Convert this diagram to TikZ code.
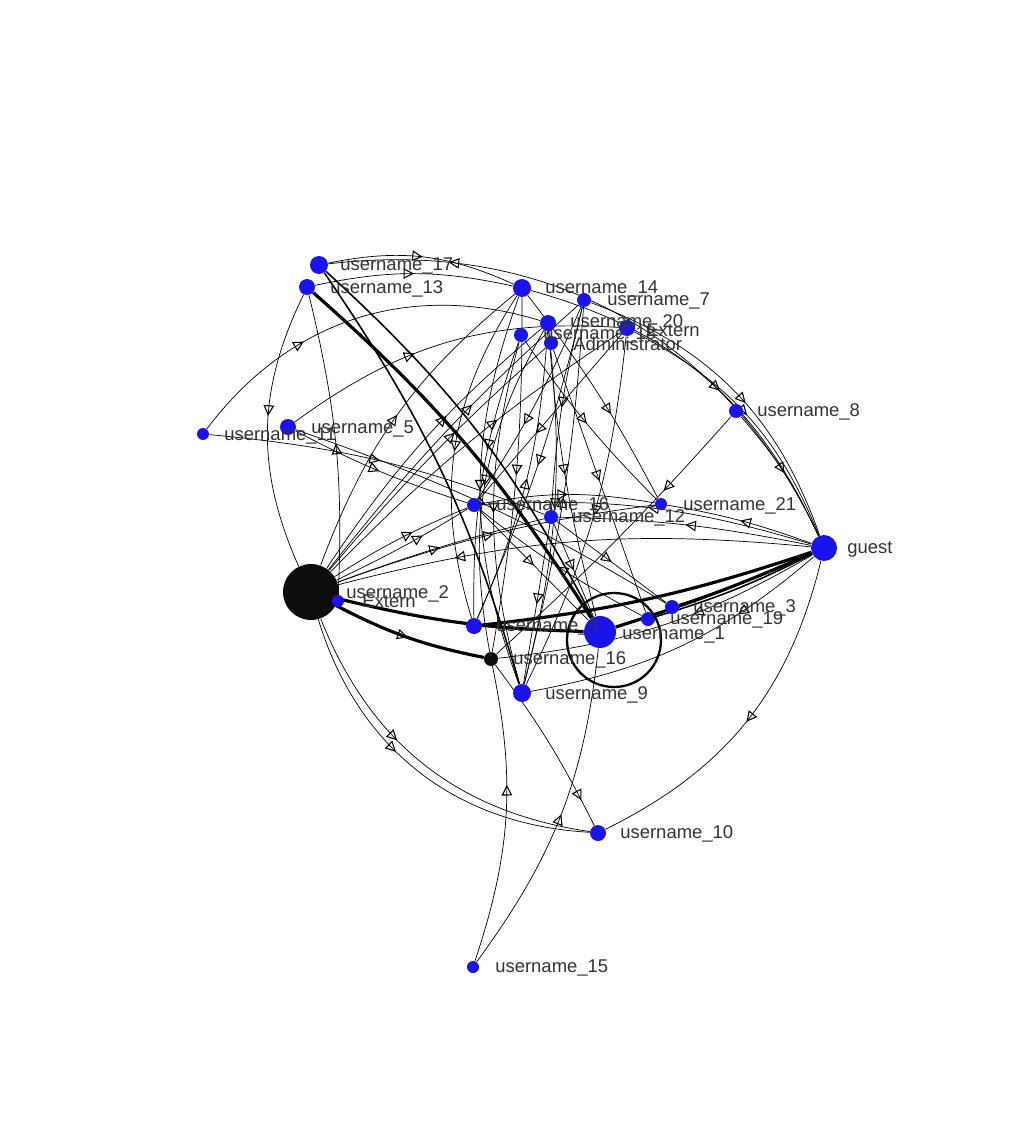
\documentclass[tikz,border=0pt]{standalone}
\usepackage{fontspec}
\setmainfont{Liberation Sans}
\usepackage{tikz}
\usetikzlibrary{arrows.meta,decorations.markings,backgrounds}
\definecolor{nodeblue}{RGB}{25,20,235}
\tikzset{
every picture/.style={line width=0.4pt},
v/.style={circle, fill=nodeblue, inner sep=0pt, minimum size=#1*0.04cm},
hub/.style={circle, fill=black!95, inner sep=0pt, minimum size=#1*0.04cm},
lab/.style={anchor=west, inner sep=0pt, text=black!80, font=\fontsize{10.5}{12}\selectfont},
e/.style={line width=0.4pt},
em/.style={line width=0.9pt},
eb/.style={line width=1.8pt},
midarr/.style={postaction={decorate}, decoration={markings,
  mark=at position #1 with {\arrow[line width=0.6pt]{Triangle[open,length=6pt,width=6pt]}}}}
}

\begin{document}
\begin{tikzpicture}[x=0.02cm, y=-0.02cm]
  \useasboundingbox (0,0) rectangle (1024,1128);
  % users
  \node[v=9] (a17) at (319,265) {};
  \node[v=8] (a13) at (307,287) {};
  \node[v=9] (a14) at (522,288) {};
  \node[v=7] (a7) at (584,300) {};
  \node[v=8] (a20) at (548,323) {};
  \node[v=7] (a18) at (521,335) {};
  \node[v=7] (adm) at (551,343) {};
  \node[v=8] (ext) at (627,328) {};
  \node[v=7] (a8) at (736,411) {};
  \node[v=6] (a11) at (203,434) {};
  \node[v=8] (a5) at (288,427) {};
  \node[v=7] (a16) at (474,505) {};
  \node[v=7] (a12) at (551,517) {};
  \node[v=6] (a21) at (661,504) {};
  \node[v=13] (guest) at (824,548) {};
  \node[hub=28] (big) at (311,592) {};
  \node[v=6] (a2) at (338,601) {};
  \node[v=7] (a3) at (672,607) {};
  \node[v=7] (a19) at (648,619) {};
  \node[v=8] (a4) at (474,626) {};
  \node[v=16] (a1) at (600,632) {};
  \node[hub=7] (b16) at (491,659) {};
  \node[v=9] (a9) at (522,693) {};
  \node[v=8] (a10) at (598,833) {};
  \node[v=6] (a15) at (473,967) {};
  \node[draw, circle, inner sep=0pt, minimum size=94*0.02cm, line width=1.3pt] (ring) at (614,640) {};

  % connectors
  \begin{scope}[on background layer]
    \foreach \s/\t/\b/\p in {guest/a17/-36/0.8, a17/a14/18/0.5, a13/a14/12/0.5,
      a13/big/-25/0.45, a2/a13/-8/0.5, a11/a20/35/0.35, a5/ext/20/0.4,
      a11/a12/8/0.5, a5/a3/6/0.5, a5/a16/-5/0.5, big/a14/15/0.5,
      big/a16/5/0.6, big/a16/-3/0.65, big/a12/3/0.5, big/a21/6/0.5,
      big/a20/8/0.6, big/ext/6/0.6, big/adm/4/0.6, big/a7/5/0.6,
      guest/big/-10/0.75, big/a10/-30/0.4, big/a10/-35/0.42,
      guest/b16/12/0.4, guest/a9/15/0.3, guest/a10/25/0.5,
      a14/guest/25/0.55, a7/guest/25/0.55, ext/guest/20/0.5, a8/guest/8/0.5,
      a8/b16/3/0.3, guest/a16/-10/0.5, guest/a12/-5/0.5, guest/a21/-5/0.5,
      a14/a4/-25/0.5, a14/a9/-20/0.5, a20/b16/-20/0.5, a18/a9/-15/0.5,
      a18/a4/-10/0.4, a14/b16/5/0.5, a20/a9/10/0.5, a15/b16/-15/0.6,
      a15/a1/-15/0.5, b16/a10/5/0.85, a20/a1/-5/0.5, a7/a4/5/0.5,
      ext/a9/10/0.5, a7/a12/-5/0.5, adm/a19/0/0.5, a18/a21/-5/0.5,
      a14/a21/5/0.6, ext/a16/0/0.6, a7/a16/5/0.6, a12/a9/0/0.5,
      a12/a3/0/0.5, a16/a1/0/0.5, a16/a21/10/0.5, a19/a16/5/0.5,
      a12/a1/0/0.5, a4/a20/-10/0.5, a9/a7/-5/0.5}
      \draw[e, midarr=\p] (\s) to[bend left=\b] (\t);
    \draw[em] (a17) to[bend left=10] (a1);
    \draw[em] (a17) to[bend left=9] (a9);
    \draw[em] (guest) to[bend left=5] (a19);
    \draw[em] (guest) to[bend left=3] (a3);
    \draw[eb] (a13) to[bend left=8] (a1);
    \draw[eb] (big) to[bend right=6] (a1);
    \draw[eb, midarr=0.5] (big) to[bend right=8] (b16);
    \draw[eb] (guest) to[bend left=3] (a1);
    \draw[eb] (guest) to[bend left=6] (a4);
  \end{scope}

  % labels
  \node[lab] (l17) at (340,266) {username\_17};
  \node[lab] (l13) at (330,289) {username\_13};
  \node[lab] (l14) at (545,289) {username\_14};
  \node[lab] (l7) at (607,301) {username\_7};
  \node[lab] (l20) at (570,323) {username\_20};
  \node[lab] (l18) at (543,335) {username\_18};
  \node[lab] (ladm) at (573,344) {Administrator};
  \node[lab] (lext) at (646,330) {Extern};
  \node[lab] (l8) at (757,412) {username\_8};
  \node[lab] (l11) at (224,436) {username\_11};
  \node[lab] (l5) at (311,429) {username\_5};
  \node[lab] (l16) at (496,506) {username\_16};
  \node[lab] (l12) at (572,518) {username\_12};
  \node[lab] (l21) at (683,506) {username\_21};
  \node[lab] (lguest) at (847,549) {guest};
  \node[lab] (l2) at (346,594) {username\_2};
  \node[lab] (lbig) at (362,601) {Extern};
  \node[lab] (l3) at (693,608) {username\_3};
  \node[lab] (l19) at (670,620) {username\_19};
  \node[lab] (l4) at (496,627) {username\_4};
  \node[lab] (l1) at (622,635) {username\_1};
  \node[lab] (lb16) at (513,660) {username\_16};
  \node[lab] (l9) at (545,695) {username\_9};
  \node[lab] (l10) at (620,834) {username\_10};
  \node[lab] (l15) at (495,968) {username\_15};
\end{tikzpicture}
\end{document}
